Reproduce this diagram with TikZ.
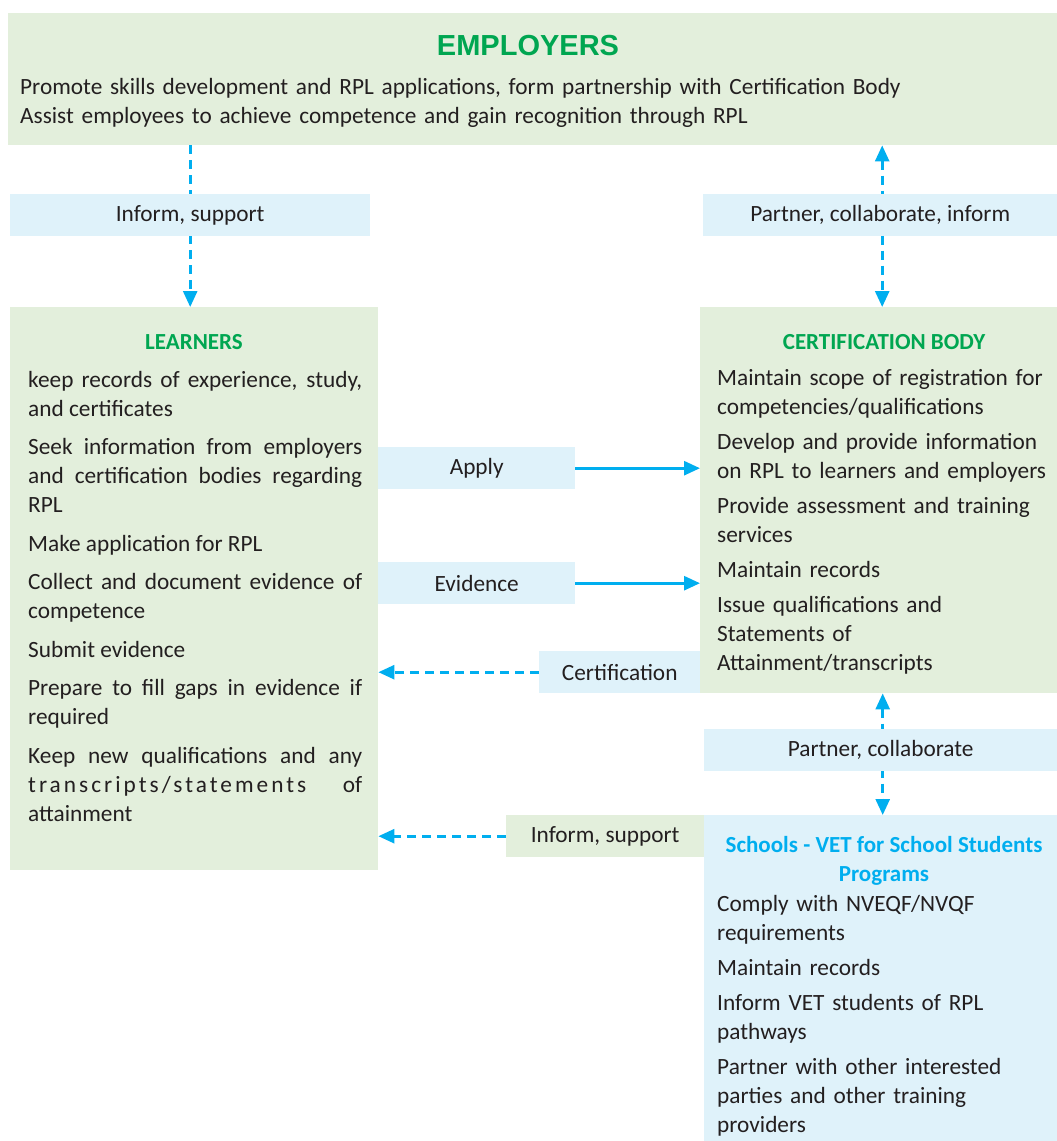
\documentclass[tikz,border=0pt]{standalone}
\usepackage{fontspec}
\setmainfont{Carlito}
\newfontfamily\titlefont{Liberation Sans}
\usetikzlibrary{arrows.meta,backgrounds}
\definecolor{boxgreen}{RGB}{227,239,220}
\definecolor{boxblue}{RGB}{223,242,250}
\definecolor{headgreen}{RGB}{0,166,81}
\definecolor{flowblue}{RGB}{0,174,239}
\definecolor{inktext}{RGB}{35,31,32}
\hyphenpenalty=10000
\exhyphenpenalty=10000
\begin{document}
\begin{tikzpicture}[x=1pt, y=1pt,
  every node/.style={font=\fontsize{23.3}{29}\selectfont, text=inktext},
  area/.style={fill=#1, inner sep=0pt, anchor=north west},
  tag/.style={fill=#1, inner sep=0pt, anchor=north west, minimum height=42},
  head/.style={font=\fontsize{23}{29}\selectfont\bfseries, text=#1, align=center},
  items/.style={anchor=north west, inner sep=0pt, text width=#1},
  flow/.style={flowblue, line width=2.7pt, -{Triangle[length=16pt, width=14pt]}},
  dashflow/.style={flow, dash pattern=on 9pt off 6pt},
  twoway/.style={dashflow, {Triangle[length=16pt, width=14pt]}-{Triangle[length=16pt, width=14pt]}}
]
  \useasboundingbox (0,0) rectangle (1057,-1141);

  % main areas
  \node[area=boxgreen, minimum width=1049, minimum height=132] (emp) at (8,-13) {};
  \node[area=boxgreen, minimum width=368, minimum height=563] (learn) at (10,-307) {};
  \node[area=boxgreen, minimum width=357, minimum height=386] (cert) at (700,-307) {};
  \node[area=boxblue, minimum width=353, minimum height=326] (school) at (704,-815) {};

  % employers
  \node[font=\titlefont\fontsize{29}{32}\selectfont\bfseries, text=headgreen] (empt) at (528,-46) {EMPLOYERS};
  \node[items=1000, align=left] (empx) at (20,-78)
    {Promote skills development and RPL applications, form partnership with Certification Body\\
     Assist employees to achieve competence and gain recognition through RPL};

  % learners
  \node[head=headgreen] (learnt) at (194,-342) {LEARNERS};
  \node[items=334, align=justify] (learnx) at (28,-371)
    {keep records of experience, study,\linebreak and certificates\par\vspace{9.5pt}
     Seek information from employers\linebreak and certification bodies regarding\linebreak RPL\par\vspace{9.5pt}
     Make application for RPL\par\vspace{9.5pt}
     Collect and document evidence of\linebreak competence\par\vspace{9.5pt}
     Submit evidence\par\vspace{9.5pt}
     Prepare to fill gaps in evidence if\linebreak required\par\vspace{9.5pt}
     Keep new qualifications and any\linebreak {\addfontfeature{LetterSpace=13}transcripts/statements} of\linebreak attainment};

  % certification body
  \node[head=headgreen] (certt) at (884,-342) {CERTIFICATION BODY};
  \node[items=335, align=left] (certx) at (717,-369)
    {Maintain scope of registration for\\ competencies/qualifications\par\vspace{6pt}
     Develop and provide information\\ on RPL to learners and employers\par\vspace{6pt}
     Provide assessment and training\\ services\par\vspace{6pt}
     Maintain records\par\vspace{6pt}
     Issue qualifications and\\ Statements of\\ Attainment/transcripts};

  % schools
  \node[head=flowblue] (schoolt) at (884,-861) {Schools - VET for School Students\\ Programs};
  \node[items=335, align=left] (schoolx) at (717,-895)
    {Comply with NVEQF/NVQF\\ requirements\par\vspace{6pt}
     Maintain records\par\vspace{6pt}
     Inform VET students of RPL\\ pathways\par\vspace{6pt}
     Partner with other interested\\ parties and other training\\ providers};

  % link labels
  \node[tag=boxblue, minimum width=360] (inf1) at (10,-194) {Inform, support};
  \node[tag=boxblue, minimum width=354] (pci) at (703,-194) {Partner, collaborate, inform};
  \node[tag=boxblue, minimum width=197] (apply) at (378,-447) {Apply};
  \node[tag=boxblue, minimum width=197] (evid) at (378,-562) {Evidence};
  \node[tag=boxblue, minimum width=161] (certif) at (539,-651) {Certification};
  \node[tag=boxblue, minimum width=353] (pc) at (704,-729) {Partner, collaborate};
  \node[tag=boxgreen, minimum width=198] (inf2) at (506,-815) {Inform, support};

  % connectors
  \begin{scope}[on background layer]
    \draw[dashflow] (emp.south -| inf1.center) -- (learn.north -| inf1.center);
    \draw[twoway] ([xshift=2]emp.south -| pci.center) -- ([xshift=2]cert.north -| pci.center);
    \draw[twoway] ([xshift=2]cert.south -| pc.center) -- ([xshift=2]school.north -| pc.center);
  \end{scope}
  \draw[flow] (apply.east) -- (apply.east -| cert.west);
  \draw[flow] (evid.east) -- (evid.east -| cert.west);
  \draw[dashflow] (certif.west) -- (certif.west -| learn.east);
  \draw[dashflow] (inf2.west) -- (inf2.west -| learn.east);
\end{tikzpicture}
\end{document}
